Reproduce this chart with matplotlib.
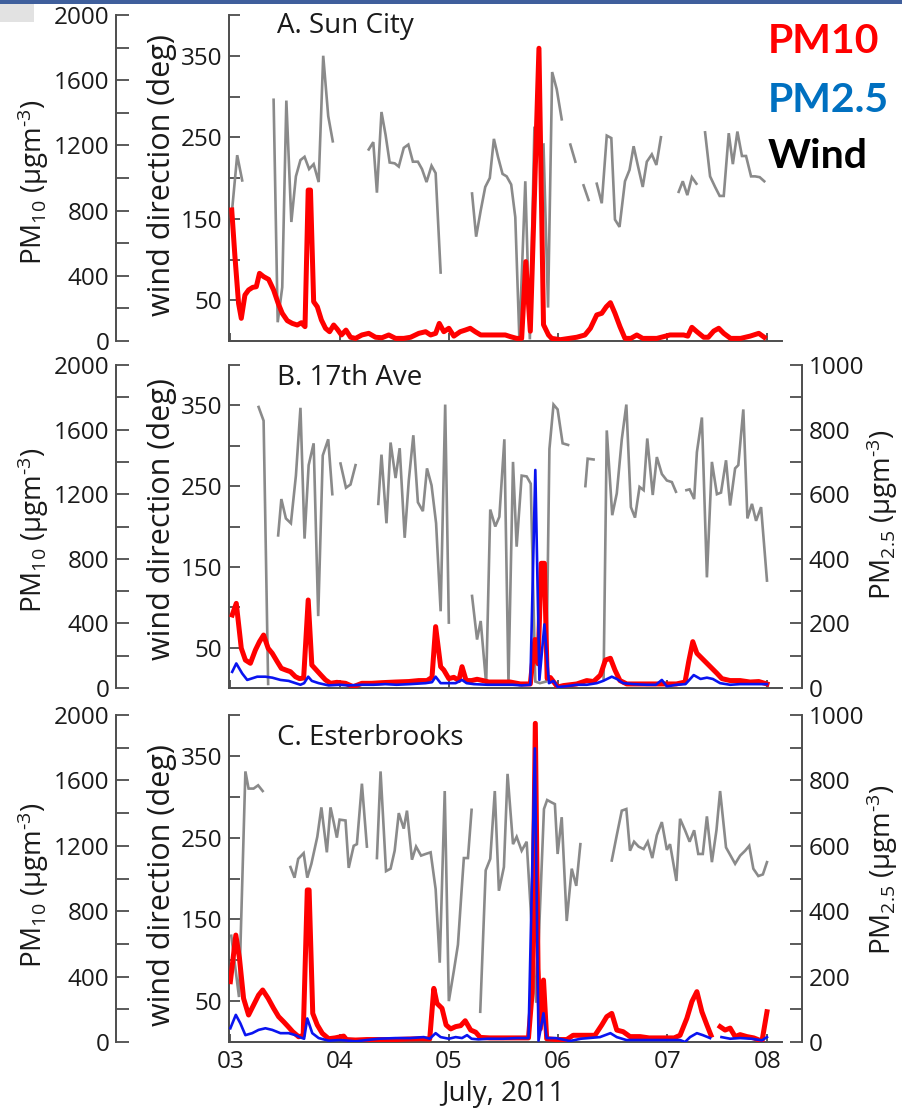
import numpy as np
import matplotlib
matplotlib.use('Agg')
import matplotlib.pyplot as plt
from matplotlib.patches import Rectangle

nan = np.nan

# time axis: hours since 00:00 on July 3, 2011
day_ticks = [0, 24, 48, 72, 96, 118]
day_labels = ['03', '04', '05', '06', '07', '08']

# ---- A. Sun City ----
sun_wind = [(0.2, 150), (1.5, 228), (2.6, 197), (nan, nan),
            (9.5, 296), (10.4, 23), (11.4, 66), (12.3, 295), (13.4, 146), (14.4, 202), (15.4, 222),
            (16.3, 226), (17.3, 211), (18.3, 217), (19.4, 195), (20.4, 350), (21.5, 276), (22.5, 245), (nan, nan),
            (30.4, 235), (31.4, 244), (32.2, 182), (33.2, 281), (34.1, 253), (35.0, 219), (36.1, 218),
            (37.0, 214), (38.1, 237), (39.1, 241), (40.1, 220), (41.2, 220), (42.1, 211), (43.1, 195),
            (44.2, 215), (45.1, 206), (46.2, 84), (nan, nan),
            (53.1, 181), (54.0, 128), (55.0, 160), (56.0, 189), (57.0, 200), (57.9, 248), (58.8, 226),
            (59.8, 205), (60.7, 202), (61.7, 192), (62.6, 152), (63.5, 2), (64.8, 196), (65.8, 2),
            (66.8, 263), (67.8, 240), (68.8, 241), (69.8, 41), (70.7, 330), (71.7, 309), (72.8, 272), (nan, nan),
            (74.7, 241), (75.8, 220), (nan, nan),
            (77.6, 191), (78.7, 173), (nan, nan),
            (80.5, 193), (81.6, 169), (82.7, 252), (83.7, 249), (84.5, 149), (85.5, 140), (86.7, 196),
            (87.7, 210), (88.6, 239), (89.5, 216), (90.6, 189), (91.5, 220), (92.6, 229), (93.6, 216),
            (94.6, 250), (nan, nan),
            (98.5, 183), (99.4, 196), (100.4, 179), (101.4, 201), (102.4, 193), (nan, nan),
            (104.3, 256), (105.4, 202), (106.5, 189), (107.5, 178), (108.4, 178), (109.5, 255), (110.4, 217),
            (111.4, 257), (112.4, 227), (113.3, 227), (114.4, 202), (115.3, 202), (116.3, 201), (117.3, 196)]

sun_pm10 = [(0.3, 804), (1.0, 520), (1.8, 231), (2.4, 139), (3.2, 282), (4.0, 313), (4.9, 329), (5.7, 333),
            (6.4, 415), (7.3, 395), (8.4, 378), (9.5, 313), (10.5, 231), (11.4, 170), (12.5, 125), (13.6, 108),
            (14.7, 98), (15.6, 112), (16.4, 88), (17.1, 926), (17.6, 926), (18.3, 241), (19.1, 210), (20.0, 129),
            (20.9, 78), (21.8, 57), (22.7, 98), (23.5, 72), (24.4, 37), (25.4, 67), (26.4, 23), (27.5, 16),
            (28.9, 37), (30.4, 47), (31.9, 23), (33.3, 20), (34.8, 37), (36.3, 16), (38.1, 16), (39.6, 23),
            (41.4, 47), (42.9, 57), (44.0, 37), (45.1, 47), (45.9, 108), (46.9, 57), (48.0, 78), (49.1, 30),
            (50.5, 57), (51.6, 67), (52.7, 78), (53.8, 57), (55.0, 37), (56.8, 37), (58.6, 37), (60.4, 37),
            (61.5, 27), (62.9, 16), (64.0, 16), (64.9, 487), (65.9, 60), (67.8, 1796), (68.8, 100), (69.9, 37),
            (70.6, 16), (72.5, 8), (76.1, 23), (77.9, 37), (79.1, 78), (80.5, 160), (81.6, 170), (82.6, 210),
            (83.5, 235), (84.5, 170), (85.6, 88), (86.7, 16), (88.0, 16), (89.3, 37), (90.6, 16), (93.7, 16),
            (96.6, 37), (99.6, 37), (100.5, 30), (101.4, 84), (102.5, 57), (104.0, 23), (105.0, 23), (106.2, 61),
            (107.3, 78), (108.4, 47), (109.9, 16), (112.1, 16), (114.2, 30), (116.1, 47), (117.3, 23)]

# ---- B. 17th Ave ----
ave_wind = [(6.2, 348), (7.3, 331), (8.3, 5), (nan, nan),
            (10.5, 189), (11.2, 234), (12.2, 210), (13.3, 204), (14.4, 263), (15.4, 347), (16.3, 185),
            (17.2, 276), (18.3, 303), (19.3, 89), (20.3, 288), (21.5, 308), (22.4, 240), (nan, nan),
            (24.2, 278), (25.4, 248), (26.4, 252), (27.5, 276), (nan, nan),
            (32.5, 228), (33.2, 289), (34.3, 204), (35.2, 304), (36.3, 260), (37.2, 297), (38.3, 186),
            (39.2, 257), (40.2, 313), (41.2, 230), (42.3, 219), (43.2, 272), (44.2, 251), (45.2, 204),
            (46.2, 95), (47.2, 351), (48.0, 81), (nan, nan),
            (53.1, 114), (54.2, 60), (55.0, 83), (56.2, 5), (57.1, 221), (58.2, 200), (59.1, 212), (60.2, 308),
            (61.1, 6), (62.1, 280), (62.9, 175), (64.0, 263), (65.1, 262), (66.0, 253), (67.0, 8), (68.0, 6),
            (69.4, 8), (70.1, 296), (71.0, 351), (71.9, 345), (73.0, 303), (74.2, 301), (nan, nan),
            (78.0, 250), (78.5, 284), (79.8, 283), (nan, nan),
            (82.0, 10), (82.7, 319), (83.9, 214), (84.9, 241), (86.0, 308), (87.0, 351), (88.0, 224),
            (88.9, 211), (89.9, 249), (90.8, 245), (91.6, 309), (92.8, 239), (93.7, 286), (94.8, 265),
            (95.9, 257), (97.0, 255), (97.9, 243), (nan, nan),
            (100.2, 245), (100.9, 246), (101.9, 234), (102.5, 292), (103.6, 335), (104.7, 137), (105.8, 280),
            (106.9, 240), (107.8, 242), (108.9, 282), (109.8, 226), (110.9, 272), (111.6, 276), (112.7, 345),
            (113.6, 210), (114.6, 228), (115.5, 207), (116.6, 224), (117.9, 133)]

ave_pm10 = [(0.4, 452), (1.3, 524), (2.4, 246), (3.3, 173), (4.4, 153), (5.5, 235), (6.4, 287), (7.3, 328),
            (8.3, 246), (9.2, 215), (10.3, 163), (11.2, 122), (12.2, 111), (13.2, 101), (14.3, 70), (15.2, 58),
            (16.1, 62), (17.1, 545), (17.9, 142), (18.9, 111), (19.9, 80), (20.9, 50), (22.0, 29), (23.4, 35),
            (25.3, 29), (27.0, 8), (28.9, 29), (31.0, 29), (33.3, 33), (36.3, 37), (39.2, 40), (41.4, 46),
            (43.2, 46), (44.3, 66), (45.1, 380), (46.2, 132), (46.9, 111), (48.0, 58), (49.1, 66), (50.2, 46),
            (50.9, 132), (51.8, 46), (53.0, 46), (54.2, 54), (55.5, 46), (56.8, 37), (59.0, 37), (61.5, 37),
            (63.7, 25), (65.9, 25), (66.9, 300), (67.6, 150), (68.3, 772), (69.0, 772), (69.6, 60), (70.3, 65),
            (71.9, 6), (73.2, 15), (76.1, 25), (78.3, 46), (79.8, 40), (81.3, 80), (82.4, 173), (83.5, 184),
            (84.5, 111), (85.6, 46), (87.1, 25), (89.0, 25), (91.5, 25), (93.5, 25), (95.9, 25), (98.0, 25),
            (99.9, 37), (100.7, 163), (101.6, 287), (102.5, 215), (103.6, 184), (104.7, 153), (105.8, 122),
            (106.9, 91), (108.0, 58), (109.8, 46), (112.0, 46), (114.2, 37), (116.1, 40), (117.9, 25)]

ave_pm25 = [(0.4, 50), (1.3, 76), (2.6, 45), (3.7, 25), (4.8, 30), (5.9, 35), (7.7, 35), (9.2, 32), (11.0, 25),
            (12.8, 22), (14.3, 15), (15.4, 10), (16.2, 15), (17.1, 35), (17.9, 22), (19.4, 15), (21.6, 8),
            (24.0, 10), (26.0, 8), (28.9, 10), (31.5, 10), (34.0, 12), (36.5, 10), (39.5, 12), (42.9, 15),
            (44.3, 18), (45.1, 35), (46.2, 15), (48.0, 15), (49.5, 15), (50.9, 25), (51.9, 15), (53.5, 12),
            (56.5, 10), (59.5, 10), (62.0, 10), (64.0, 8), (65.9, 10), (67.0, 675), (67.9, 25), (69.0, 197),
            (70.0, 15), (71.0, 22), (71.9, 3), (73.5, 5), (76.1, 10), (78.3, 10), (80.5, 15), (81.9, 22),
            (83.8, 35), (84.9, 28), (86.3, 15), (88.5, 12), (91.5, 10), (93.5, 10), (94.8, 25), (95.9, 5),
            (98.0, 10), (100.0, 12), (101.8, 40), (103.3, 28), (104.7, 32), (106.0, 28), (107.6, 15),
            (109.8, 10), (112.0, 12), (115.0, 12), (117.9, 12)]

# ---- C. Esterbrooks ----
est_wind = [(0.2, 130), (1.9, 55), (3.3, 331), (4.0, 310), (5.1, 310), (6.1, 314), (7.1, 307), (nan, nan),
            (13.2, 214), (14.1, 201), (14.9, 224), (16.1, 231), (16.9, 201), (17.8, 218), (19.1, 251),
            (20.0, 287), (21.2, 232), (22.0, 287), (22.7, 269), (23.4, 250), (24.0, 272), (25.3, 271),
            (26.0, 213), (27.1, 240), (27.8, 242), (28.9, 316), (30.0, 239), (nan, nan),
            (32.2, 225), (33.0, 331), (34.2, 209), (35.2, 212), (36.1, 234), (37.0, 280), (38.1, 261),
            (38.8, 283), (39.9, 223), (40.8, 239), (41.9, 228), (42.9, 230), (44.0, 232), (45.1, 187),
            (46.0, 97), (47.1, 307), (48.0, 50), (49.1, 87), (50.0, 119), (50.8, 185), (51.3, 225),
            (52.2, 225), (53.0, 284), (nan, nan),
            (54.9, 37), (56.1, 210), (57.1, 224), (58.1, 307), (59.0, 185), (60.1, 214), (60.9, 328),
            (62.1, 242), (62.9, 251), (64.0, 234), (65.1, 245), (67.2, 48), (68.9, 285), (69.6, 296),
            (70.6, 293), (71.3, 291), (71.9, 230), (72.8, 275), (73.9, 148), (75.0, 212), (76.0, 191),
            (76.9, 242), (nan, nan),
            (83.8, 222), (84.9, 253), (86.0, 283), (87.0, 285), (87.8, 234), (88.7, 245), (89.7, 239),
            (90.8, 236), (91.7, 245), (92.7, 225), (93.7, 253), (94.8, 269), (95.9, 235), (96.6, 242),
            (98.0, 197), (98.8, 273), (99.9, 259), (100.9, 245), (101.9, 259), (102.8, 230), (103.8, 230),
            (104.7, 276), (105.8, 220), (106.8, 259), (107.6, 307), (108.9, 238), (109.9, 228), (110.9, 218),
            (112.0, 228), (113.1, 234), (114.0, 240), (114.9, 212), (116.0, 203), (117.0, 205), (117.9, 220)]

est_pm10 = [(0.0, 369), (1.2, 654), (2.0, 512), (2.9, 267), (4.0, 165), (5.1, 226), (6.2, 287), (7.1, 318),
            (8.3, 267), (9.5, 206), (10.6, 155), (11.7, 124), (12.7, 94), (13.7, 63), (15.0, 32), (16.0, 40),
            (16.9, 930), (17.3, 930), (18.1, 175), (19.1, 104), (20.2, 53), (21.6, 20), (23.0, 25), (24.9, 36),
            (25.5, 15), (27.5, 12), (30.0, 15), (33.0, 15), (36.3, 15), (39.0, 18), (42.1, 20), (43.8, 18),
            (44.7, 328), (45.4, 236), (46.5, 206), (47.4, 104), (48.4, 80), (49.5, 94), (50.6, 100),
            (51.6, 130), (52.8, 73), (53.9, 60), (54.9, 28), (57.0, 25), (60.0, 25), (63.0, 25), (65.5, 25),
            (66.3, 300), (67.0, 1949), (67.6, 450), (68.1, 80), (68.8, 379), (69.5, 20), (71.5, 15), (73.9, 15),
            (75.3, 41), (78.0, 41), (80.1, 41), (81.6, 104), (82.7, 155), (83.8, 175), (84.9, 73), (86.3, 63),
            (87.8, 33), (90.0, 33), (92.0, 25), (95.9, 25), (97.5, 25), (98.8, 41), (100.3, 145), (101.4, 247),
            (102.5, 308), (103.6, 185), (104.7, 104), (105.6, 41), (nan, nan),
            (107.6, 94), (108.7, 73), (109.8, 85), (110.9, 33), (112.0, 45), (113.5, 33), (115.0, 25),
            (116.8, 5), (117.9, 185)]

est_pm25 = [(0.0, 42), (1.2, 83), (2.2, 57), (3.3, 21), (4.8, 27), (6.2, 37), (7.7, 42), (9.2, 37), (11.0, 27),
            (12.8, 27), (14.3, 21), (15.4, 14), (16.2, 10), (16.9, 72), (18.0, 27), (19.4, 12), (21.6, 4),
            (24.0, 6), (26.0, 4), (27.5, 2), (30.0, 6), (32.5, 10), (36.3, 12), (39.5, 12), (42.5, 15),
            (43.8, 10), (45.1, 27), (46.2, 15), (48.0, 10), (49.5, 15), (50.9, 12), (52.0, 21), (53.0, 10),
            (54.5, 8), (56.5, 10), (60.0, 10), (63.0, 12), (65.5, 12), (66.9, 898), (67.7, 4), (68.8, 88),
            (69.5, 12), (71.5, 12), (74.6, 3), (77.0, 10), (81.2, 15), (83.5, 27), (84.9, 15), (87.0, 6),
            (90.0, 6), (95.0, 6), (98.8, 6), (99.9, 0), (101.0, 15), (102.5, 27), (103.8, 21), (105.4, 12),
            (nan, nan),
            (107.9, 15), (109.8, 10), (112.0, 12), (114.5, 10), (116.8, 5), (117.9, 15)]

# ---- styling ----
plt.rcParams['font.family'] = 'Open Sans'
plt.rcParams['mathtext.fontset'] = 'custom'
plt.rcParams['mathtext.rm'] = 'Open Sans'
plt.rcParams['mathtext.it'] = 'Open Sans'

W, H = 902, 1111
AX_COL = '#4d4d4d'
TXT_COL = '#1a1a1a'
WIND_COL = '#8a8a8a'
PM10_COL = '#ff0000'
PM25_COL = '#0a14f0'
TICK_FS = 17.5

fig = plt.figure(figsize=(W / 100, H / 100), dpi=100)

# slide header strip
fig.add_artist(Rectangle((0, 1 - 4 / H), 1, 4 / H, transform=fig.transFigure, color='#3f5f9c', lw=0))
fig.add_artist(Rectangle((0, 1 - 22 / H), 34 / W, 18 / H, transform=fig.transFigure, color='#e2e2e2', lw=0))


def box(x0, ytop, x1, ybot):
    return [x0 / W, 1 - ybot / H, (x1 - x0) / W, (ybot - ytop) / H]


def tick_labels(ticks, every):
    return [str(t) if t % every == 0 else '' for t in ticks]


def xy(series):
    arr = np.array(series, dtype=float)
    return arr[:, 0], arr[:, 1]


PM10_LABEL = r'PM$_{\mathrm{10}}$ (µgm$^{\text{-3}}$)'
PM25_LABEL = r'PM$_{\mathrm{2.5}}$ (µgm$^{\text{-3}}$)'

panels = [
    dict(title='A. Sun City', ext=(229, 15, 782, 341), wind=sun_wind, pm10=sun_pm10, pm25=None,
         title_y=33, lab10_y=182, labw_y=175, lab25_y=None),
    dict(title='B. 17th Ave', ext=(229, 365, 782, 688), wind=ave_wind, pm10=ave_pm10, pm25=ave_pm25,
         title_y=385, lab10_y=530, labw_y=519, lab25_y=515),
    dict(title='C. Esterbrooks', ext=(229, 715, 782, 1042), wind=est_wind, pm10=est_pm10, pm25=est_pm25,
         title_y=745, lab10_y=885, labw_y=885, lab25_y=870),
]

for i, p in enumerate(panels):
    ax = fig.add_axes(box(*p['ext']))
    ax.patch.set_visible(False)
    for s in ('top', 'right'):
        ax.spines[s].set_visible(False)
    for s in ('left', 'bottom'):
        ax.spines[s].set_color(AX_COL)
        ax.spines[s].set_linewidth(1.4)
    ax.set_xlim(-0.3, 121.2)
    ax.set_ylim(0, 400)
    wt = list(range(0, 401, 50))
    ax.set_yticks(wt)
    ax.set_yticklabels([str(t) if t % 100 == 50 else '' for t in wt])
    ax.set_xticks(day_ticks)
    ax.set_xticklabels(day_labels if i == 2 else [''] * len(day_ticks))
    ax.tick_params(axis='both', direction='in', color=AX_COL, width=1.3, labelsize=TICK_FS,
                   labelcolor=TXT_COL)
    ax.tick_params(axis='y', length=8, pad=5)
    ax.tick_params(axis='x', length=6, pad=6)
    t, v = xy(p['wind'])
    ax.plot(t, v, color=WIND_COL, lw=1.9, solid_joinstyle='miter')

    # PM10 on an outward left axis
    a10 = ax.twinx()
    a10.patch.set_visible(False)
    a10.yaxis.tick_left()
    for s in ('top', 'right', 'bottom'):
        a10.spines[s].set_visible(False)
    a10.spines['left'].set_visible(True)
    a10.spines['left'].set_position(('axes', -0.204))
    a10.spines['left'].set_color(AX_COL)
    a10.spines['left'].set_linewidth(1.4)
    a10.set_ylim(0, 2000)
    pt = list(range(0, 2001, 200))
    a10.set_yticks(pt)
    a10.set_yticklabels(tick_labels(pt, 400))
    a10.tick_params(axis='y', direction='in', length=9, width=1.3, color=AX_COL, labelsize=TICK_FS,
                    pad=5, labelcolor=TXT_COL)
    t, v = xy(p['pm10'])
    a10.plot(t, v, color=PM10_COL, lw=3.6, solid_joinstyle='round')

    if p['pm25'] is not None:
        a25 = ax.twinx()
        a25.patch.set_visible(False)
        for s in ('top', 'left', 'bottom'):
            a25.spines[s].set_visible(False)
        a25.spines['right'].set_position(('axes', 1.036))
        a25.spines['right'].set_color(AX_COL)
        a25.spines['right'].set_linewidth(1.4)
        a25.set_ylim(0, 1000)
        qt = list(range(0, 1001, 100))
        a25.set_yticks(qt)
        a25.set_yticklabels(tick_labels(qt, 200))
        a25.tick_params(axis='y', direction='in', length=9, width=1.3, color=AX_COL, labelsize=TICK_FS,
                        pad=5, labelcolor=TXT_COL)
        t, v = xy(p['pm25'])
        a25.plot(t, v, color=PM25_COL, lw=1.9)
        fig.text(882 / W, 1 - p['lab25_y'] / H, PM25_LABEL, rotation=90,
                 ha='center', va='center', fontsize=20, color=TXT_COL)

    fig.text(277 / W, 1 - p['title_y'] / H, p['title'], ha='left', va='baseline', fontsize=20,
             color=TXT_COL)
    fig.text(33 / W, 1 - p['lab10_y'] / H, PM10_LABEL, rotation=90,
             ha='center', va='center', fontsize=20, color=TXT_COL)
    fig.text(162 / W, 1 - p['labw_y'] / H, 'wind direction (deg)', rotation=90,
             ha='center', va='center', fontsize=22, color=TXT_COL)

fig.text(503 / W, 1 - 1094 / H, 'July, 2011', ha='center', va='center', fontsize=20, color=TXT_COL)

# colour key
fig.text(768 / W, 1 - 53 / H, 'PM10', color='#ff0000', fontsize=29.5, fontweight='bold', family='Lato',
         va='baseline', ha='left')
fig.text(768 / W, 1 - 112 / H, 'PM2.5', color='#0070c0', fontsize=29.5, fontweight='bold', family='Lato',
         va='baseline', ha='left')
fig.text(768 / W, 1 - 168 / H, 'Wind', color='#000000', fontsize=29.5, fontweight='bold', family='Lato',
         va='baseline', ha='left')

fig.savefig('out.png', dpi=100)
